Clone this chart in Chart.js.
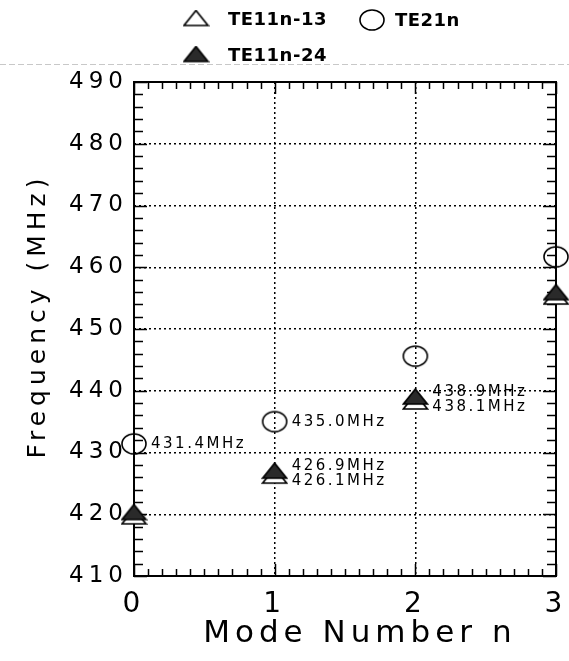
<!DOCTYPE html>
<html>
<head>
<meta charset="utf-8">
<script src="https://cdn.jsdelivr.net/npm/chart.js@4/dist/chart.umd.min.js"></script>
<style>
body{margin:0;background:#fff;}
</style>
</head>
<body>
<canvas id="chart" width="569" height="661"></canvas>
<script>
var modes = [0, 1, 2, 3];
var te11n13 = [419.5, 426.1, 438.1, 455.1];
var te11n24 = [420.2, 426.9, 438.9, 455.8];
var te21n = [431.4, 435.0, 445.6, 461.7];
var labels13 = [null, '426.1MHz', '438.1MHz', null];
var labels24 = [null, '426.9MHz', '438.9MHz', null];
var labels21 = ['431.4MHz', '435.0MHz', null, null];
var yTicks = [410, 420, 430, 440, 450, 460, 470, 480, 490];
var xTicks = [0, 1, 2, 3];

var FONT = '"DejaVu Sans", sans-serif';

// marker pictures
function triangle(filled){
  var c = document.createElement('canvas');
  c.width = 27; c.height = 19;
  var g = c.getContext('2d');
  g.beginPath();
  g.moveTo(13.5, 1);
  g.lineTo(25.5, 16);
  g.lineTo(1.5, 16);
  g.closePath();
  g.fillStyle = filled ? '#2a2a2a' : '#fff';
  g.fill();
  g.lineWidth = 1.7;
  g.strokeStyle = '#000';
  g.stroke();
  return c;
}
function ellipse(){
  var c = document.createElement('canvas');
  c.width = 28; c.height = 24;
  var g = c.getContext('2d');
  g.beginPath();
  g.ellipse(14, 12, 12, 10, 0, 0, Math.PI*2);
  g.lineWidth = 1.6;
  g.strokeStyle = '#000';
  g.stroke();
  return c;
}
var openTri = triangle(false);
var fullTri = triangle(true);
var circ = ellipse();

function pts(vals){
  return vals.map(function(v, i){ return {x: modes[i], y: v}; });
}

var frame = {
  id: 'frame',
  beforeDraw: function(chart){
    chart.ctx.letterSpacing = '5px';
  },
  beforeDatasetsDraw: function(chart){
    var ctx = chart.ctx, a = chart.chartArea;
    var xs = chart.scales.x, ys = chart.scales.y;
    ctx.save();
    ctx.strokeStyle = '#000';
    ctx.lineWidth = 1.5;
    ctx.beginPath();
    for(var v = 410; v <= 490; v += 2){
      var y = Math.round(ys.getPixelForValue(v)) + 0.5;
      var L = (v % 10 === 0) ? 13 : 9;
      ctx.moveTo(a.left, y); ctx.lineTo(a.left + L, y);
      ctx.moveTo(a.right, y); ctx.lineTo(a.right - L, y);
    }
    for(var k = 0; k <= 30; k++){
      var x = Math.round(xs.getPixelForValue(k/10)) + 0.5;
      var L2 = (k % 10 === 0) ? 12 : 7;
      ctx.moveTo(x, a.bottom); ctx.lineTo(x, a.bottom - L2);
      ctx.moveTo(x, a.top); ctx.lineTo(x, a.top + L2);
    }
    ctx.stroke();
    ctx.lineWidth = 2;
    ctx.strokeRect(a.left, a.top, a.right - a.left, a.bottom - a.top);
    // faint scan line under the legend
    ctx.strokeStyle = '#c8c8c8';
    ctx.lineWidth = 1;
    ctx.setLineDash([6, 3]);
    ctx.beginPath();
    ctx.moveTo(0, 64.5); ctx.lineTo(569, 64.5);
    ctx.stroke();
    ctx.restore();
  },
  afterDatasetsDraw: function(chart){
    var ctx = chart.ctx;
    ctx.save();
    ctx.font = '15px ' + FONT;
    ctx.letterSpacing = '2.5px';
    ctx.fillStyle = '#000';
    ctx.textAlign = 'left';
    ctx.textBaseline = 'middle';
    chart.data.datasets.forEach(function(ds, i){
      var meta = chart.getDatasetMeta(i);
      ds.pointText.forEach(function(t, j){
        if(!t) return;
        var p = meta.data[j];
        ctx.fillText(t, p.x + 17, p.y + ds.textDy);
      });
    });
    ctx.restore();
  },
  afterDraw: function(chart){
    var ctx = chart.ctx;
    ctx.save();
    ctx.font = 'bold 18px ' + FONT;
    ctx.letterSpacing = '0.5px';
    ctx.fillStyle = '#000';
    ctx.textBaseline = 'middle';
    ctx.textAlign = 'left';
    var items = [
      {img: openTri, x: 196, y: 19, text: chart.data.datasets[0].label, tx: 228},
      {img: circ, x: 372, y: 20, text: chart.data.datasets[2].label, tx: 395},
      {img: fullTri, x: 196, y: 55, text: chart.data.datasets[1].label, tx: 228}
    ];
    items.forEach(function(it){
      ctx.drawImage(it.img, it.x - it.img.width/2, it.y - it.img.height/2);
      ctx.fillText(it.text, it.tx, it.y + 1);
    });
    ctx.restore();
  }
};

new Chart(document.getElementById('chart'), {
  type: 'scatter',
  data: {
    datasets: [
      {label: 'TE11n-13', data: pts(te11n13), pointStyle: openTri, radius: 12, order: 2, clip: false, pointText: labels13, textDy: 5},
      {label: 'TE11n-24', data: pts(te11n24), pointStyle: fullTri, radius: 12, order: 0, clip: false, pointText: labels24, textDy: -5.5},
      {label: 'TE21n', data: pts(te21n), pointStyle: circ, radius: 12, order: 1, clip: false, pointText: labels21, textDy: 0}
    ]
  },
  options: {
    responsive: false,
    animation: false,
    events: [],
    layout: {padding: {top: 82, left: 23, right: 12, bottom: 0}},
    plugins: {legend: {display: false}, tooltip: {enabled: false}},
    scales: {
      x: {
        type: 'linear', min: 0, max: 3,
        afterBuildTicks: function(s){ s.ticks = xTicks.map(function(v){ return {value: v}; }); },
        afterFit: function(s){ s.height = 85; s.paddingLeft = 0; s.paddingRight = 0; },
        grid: {color: '#000', lineWidth: 1.5, drawTicks: false},
        border: {display: false, dash: [2, 3]},
        ticks: {color: '#000', font: {family: FONT, size: 28}, padding: 12},
        title: {display: true, text: '  Mode Number n', color: '#000', font: {family: FONT, size: 31}, padding: {top: 0, bottom: 8}}
      },
      y: {
        min: 410, max: 490,
        afterBuildTicks: function(s){ s.ticks = yTicks.map(function(v){ return {value: v}; }); },
        afterFit: function(s){ s.width = 111; },
        grid: {color: '#000', lineWidth: 1.5, drawTicks: false},
        border: {display: false, dash: [2, 3]},
        ticks: {color: '#000', font: {family: FONT, size: 23}, padding: 6},
        title: {display: true, text: '  Frequency (MHz)', color: '#000', font: {family: FONT, size: 25}, padding: 0}
      }
    }
  },
  plugins: [frame]
});
</script>
</body>
</html>
